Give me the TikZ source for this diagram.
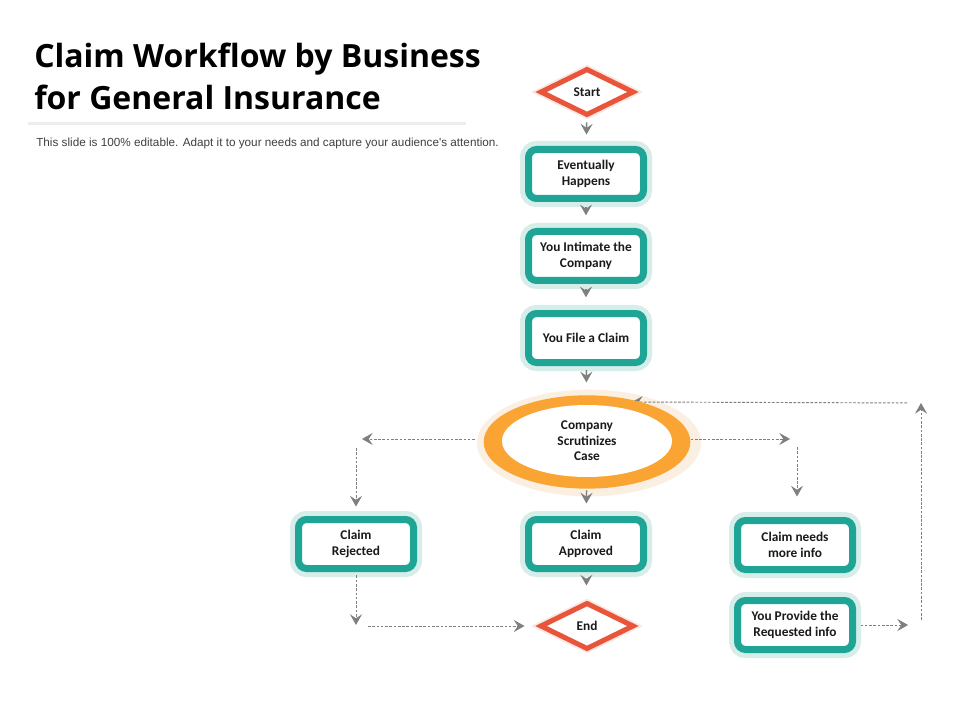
\documentclass[tikz,border=0pt]{standalone}
\usepackage{fontspec}
\setmainfont{Carlito}
\newfontfamily\subfont{Liberation Sans}
\newfontfamily\titlefont{Open Sans}
\usetikzlibrary{arrows.meta,shapes.geometric}
\definecolor{tealc}{HTML}{1FA595}
\definecolor{tealh}{HTML}{D7EDEA}
\definecolor{redc}{HTML}{E9553A}
\definecolor{redh}{HTML}{FBE7E2}
\definecolor{orc}{HTML}{F9A433}
\definecolor{orh}{HTML}{FAEFE0}
\definecolor{arr}{HTML}{7F7F7F}
\definecolor{txt}{HTML}{1A1A1A}
\begin{document}
\begin{tikzpicture}[x=0.75pt,y=-0.75pt,
  box/.style={draw=tealc, line width=5.25pt, rounded corners=6pt, fill=white,
    minimum width=86.25pt, minimum height=36.75pt, align=center, inner sep=0pt,
    text=txt, font=\fontsize{10}{11.5}\selectfont\bfseries,
    preaction={draw=tealh, line width=12.75pt}},
  dia/.style={diamond, draw=redc, line width=3.75pt, fill=white,
    minimum width=70.5pt, minimum height=35.25pt, inner sep=0pt, text=txt,
    font=\fontsize{10}{11.5}\selectfont\bfseries,
    preaction={draw=redh, line width=6.5pt}},
  tip/.style={-{Stealth[length=8pt,width=9pt,inset=3pt]}},
  flow/.style={draw=arr, line width=1.1pt, tip},
  dflow/.style={draw=arr, line width=0.7pt, dash pattern=on 2pt off 1.2pt, tip},
  ttl/.style={anchor=base west, inner sep=0pt, font=\titlefont\fontsize{24}{28}\selectfont\bfseries}
]
\fill[white] (0,0) rectangle (960,720);
\useasboundingbox (0,0) rectangle (960,720);

% title
\node[ttl] (t1) at (34,68) {Claim Workflow by Business};
\node[ttl] (t2) at (34,110) {for General Insurance};
\draw[line width=2.25pt, color=black!7] (28,124) -- (466,124);
\node[anchor=base west, inner sep=0pt, text=black!75, font=\subfont\fontsize{8.8}{10}\selectfont] (sub) at (36,147) {This slide is 100\% editable. Adapt it to your needs and capture your audience's attention.};

% main column
\node[dia] (st) at (587,92) {Start};
\node[box] (b1) at (586,174) {Eventually\\Happens};
\node[box] (b2) at (586,256) {You Intimate the\\Company};
\node[box] (b3) at (586,338) {You File a Claim};

% helper coordinates
\coordinate (l1) at (356,439);
\coordinate (l2) at (356,626);
\coordinate (r1) at (797,439);
\coordinate (r2) at (921,625);
\coordinate (r3) at (921,403);
\coordinate (fb) at (632,402);

% ellipse glow
\node[ellipse, fill=orh, minimum width=168pt, minimum height=80pt, inner sep=0pt] (csh) at (589,443) {};
% return arrow runs over the glow, its tip touches the ring
\draw[dflow, shorten <=10.5pt] (r3) -- (fb);
% ellipse ring and centre
\node[ellipse, fill=orc, minimum width=155pt, minimum height=70pt, inner sep=0pt] (cs) at (587,442) {};
\node[ellipse, fill=white, minimum width=127.5pt, minimum height=54pt, inner sep=0pt, align=center,
  text=txt, font=\fontsize{10}{11.5}\selectfont\bfseries] (csin) at (587,441) {Company\\Scrutinizes\\Case};

% bottom row
\node[box] (rej) at (356,544) {Claim\\Rejected};
\node[box] (app) at (586,544) {Claim\\Approved};
\node[box] (ni) at (795,545) {Claim needs\\more info};
\node[box] (yp) at (795,625) {You Provide the\\Requested info};
\node[dia] (en) at (587,626) {End};

% solid connectors
\draw[flow, shorten <=3.4pt, shorten >=8.6pt] (st) -- (b1);
\draw[flow, shorten <=4pt, shorten >=9.5pt] (b1) -- (b2);
\draw[flow, shorten <=4pt, shorten >=9.5pt] (b2) -- (b3);
\draw[flow, shorten <=3pt, shorten >=9.5pt] (b3) -- (cs);
\draw[flow, shorten <=1pt, shorten >=9.4pt] (cs) -- (app);
\draw[flow, shorten <=5pt, shorten >=11pt] (app) -- (en);

% dashed connectors
\draw[dflow, shorten <=6.5pt, shorten >=4.5pt] ([yshift=2.25pt]cs.west) -- (l1);
\draw[dflow, shorten <=6.75pt, shorten >=7.1pt] (l1) -- (l1 |- rej.north);
\draw[dflow, shorten <=2.6pt, shorten >=0.8pt] (rej) -- (l2);
\draw[dflow, shorten <=9pt, shorten >=9.75pt] (l2) -- (en);
\draw[dflow, shorten >=5.25pt] ([yshift=2.25pt]cs.east) -- (r1);
\draw[dflow, shorten <=6pt, shorten >=15.4pt] (r1) -- (r1 |- ni.north);
\draw[dflow, shorten <=3.4pt, shorten >=9.75pt] (yp) -- (r2);
\draw[dflow, shorten <=3.75pt] (r2) -- (r3);
\end{tikzpicture}
\end{document}
